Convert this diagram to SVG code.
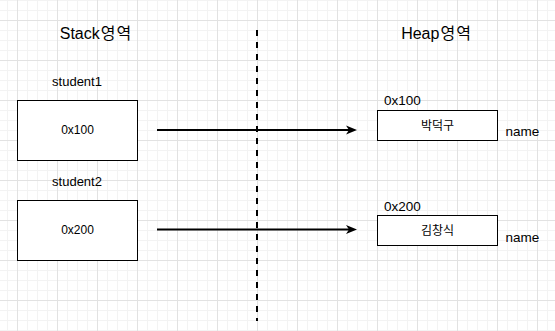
<svg xmlns="http://www.w3.org/2000/svg" width="555" height="331" viewBox="0 0 555 331">
<style>
.box{fill:#fff;stroke:#000;stroke-width:1}
.t{font-family:"Liberation Sans",Arial,"Noto Sans CJK KR",sans-serif;fill:#000}
.k{font-family:"Noto Sans CJK KR","Liberation Sans",sans-serif;fill:#000}
.conn{stroke:#000;stroke-width:2;fill:none}
</style>
<defs>
<pattern id="minor" x="7" y="0" width="10" height="10" patternUnits="userSpaceOnUse">
<path d="M0.5,0V10M0,0.5H10" stroke="#f3f3f3" stroke-width="1" fill="none"/>
</pattern>
<pattern id="major" x="17" y="20" width="40" height="40" patternUnits="userSpaceOnUse">
<path d="M0.5,0V40M0,0.5H40" stroke="#e2e2e2" stroke-width="1" fill="none"/>
</pattern>
<marker id="arr" markerUnits="userSpaceOnUse" markerWidth="12" markerHeight="12" viewBox="0 0 12 12" refX="3" refY="6" orient="auto">
<path d="M0,1.5L11,6L0,10.5L3,6Z" fill="#000"/>
</marker>
</defs>
<rect width="555" height="331" fill="#fff"/>
<rect width="555" height="331" fill="url(#minor)"/>
<rect width="555" height="331" fill="url(#major)"/>

<g id="title-stack"><text class="t" x="95.5" y="39" font-size="16" text-anchor="middle">Stack<tspan class="k" dx="1">영</tspan><tspan class="k" dx="1">역</tspan></text></g>
<g id="title-heap"><text class="t" x="436" y="39" font-size="16" text-anchor="middle">Heap<tspan class="k" dx="1">영</tspan><tspan class="k" dx="1">역</tspan></text></g>

<g id="divider"><line x1="257" y1="30" x2="257" y2="321" stroke="#000" stroke-width="2" stroke-dasharray="6 6"/></g>

<g id="student1">
<text class="t" x="77" y="86" font-size="13" text-anchor="middle">student1</text>
<rect class="box" x="17.5" y="100.5" width="120" height="60"/>
<text class="t" x="77.5" y="134.3" font-size="12" text-anchor="middle">0x100</text>
</g>
<g id="student2">
<text class="t" x="77" y="186" font-size="13" text-anchor="middle">student2</text>
<rect class="box" x="17.5" y="200.5" width="120" height="60"/>
<text class="t" x="77.5" y="234.3" font-size="12" text-anchor="middle">0x200</text>
</g>

<g id="heap1">
<text class="t" x="384" y="105.3" font-size="13.5">0x100</text>
<rect class="box" x="377.5" y="110.5" width="120" height="30"/>
<text class="k" x="437.5" y="129.5" font-size="12" text-anchor="middle">박덕구</text>
<text class="t" x="505.5" y="136" font-size="13.5">name</text>
</g>
<g id="heap2">
<text class="t" x="384" y="210.7" font-size="13.5">0x200</text>
<rect class="box" x="377.5" y="215.5" width="120" height="30"/>
<text class="k" x="437.5" y="234.5" font-size="12" text-anchor="middle">김창식</text>
<text class="t" x="505.5" y="241.7" font-size="13.5">name</text>
</g>

<g id="connectors">
<line class="conn" x1="157" y1="130" x2="349" y2="130" marker-end="url(#arr)"/>
<line class="conn" x1="157" y1="229.5" x2="349" y2="229.5" marker-end="url(#arr)"/>
</g>
</svg>
